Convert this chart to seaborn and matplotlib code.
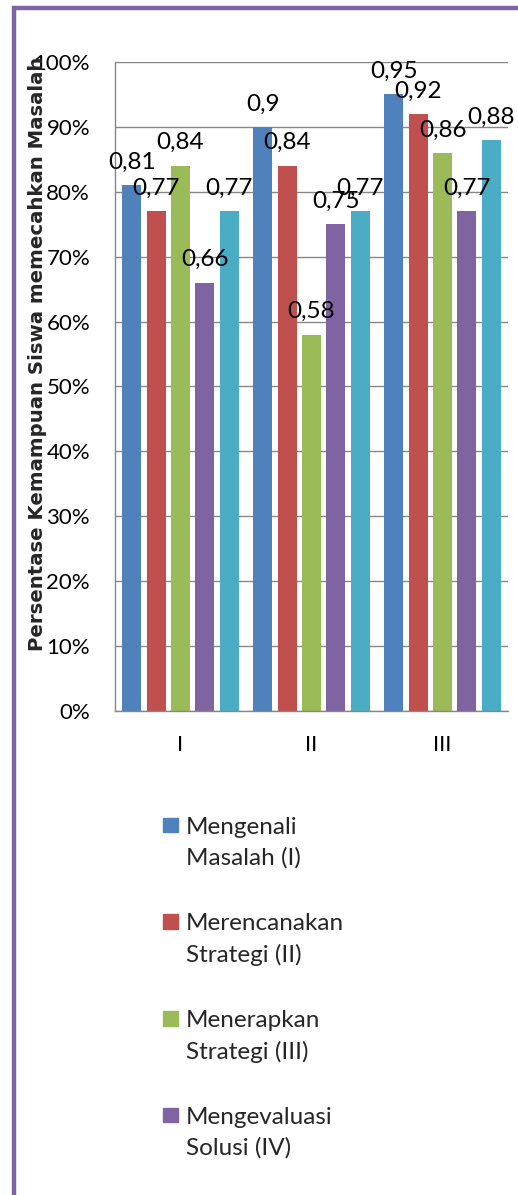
import matplotlib
matplotlib.use("Agg")
import matplotlib.pyplot as plt
from matplotlib.patches import Rectangle
from matplotlib.legend_handler import HandlerPatch
from matplotlib.ticker import PercentFormatter, MultipleLocator
import seaborn as sns
import pandas as pd

# Siklus (cycles) on the x axis
siklus = ["I", "II", "III"]

# Aspects of problem-solving ability (hue series)
aspek = [
    "Mengenali\nMasalah (I)",
    "Merencanakan\nStrategi (II)",
    "Menerapkan\nStrategi (III)",
    "Mengevaluasi\nSolusi (IV)",
    "Rata-rata",
]

mengenali = [0.81, 0.90, 0.95]
merencanakan = [0.77, 0.84, 0.92]
menerapkan = [0.84, 0.58, 0.86]
mengevaluasi = [0.66, 0.75, 0.77]
rata_rata = [0.77, 0.77, 0.88]

warna = ["#4F81BD", "#C0504D", "#9BBB59", "#8064A2", "#4BACC6"]

series = [mengenali, merencanakan, menerapkan, mengevaluasi, rata_rata]
rows = []
for name, vals in zip(aspek, series):
    for s, v in zip(siklus, vals):
        rows.append({"Siklus": s, "Aspek": name, "Nilai": v})
df = pd.DataFrame(rows)

sns.set_style("white")
plt.rcParams["font.family"] = ["Lato", "DejaVu Sans"]

W, H = 518, 1195
fig = plt.figure(figsize=(W / 100, H / 100), dpi=100)
ax = fig.add_axes([115 / W, 1 - 711 / H, 393 / W, 649 / H])

sns.barplot(
    data=df, x="Siklus", y="Nilai", hue="Aspek",
    hue_order=aspek, order=siklus, palette=warna, saturation=1,
    width=0.93, gap=0.22, linewidth=0, ax=ax, legend=False,
)

# value labels above each bar, decimal comma
for cont, vals in zip(ax.containers, series):
    labels = [f"{v:.2f}".rstrip("0").replace(".", ",") for v in vals]
    ax.bar_label(cont, labels=labels, padding=9, fontsize=17.5, color="black")

ax.set_ylim(0, 1)
ax.yaxis.set_major_locator(MultipleLocator(0.1))
ax.yaxis.set_major_formatter(PercentFormatter(1.0, decimals=0))
ax.grid(axis="y", color="#878787", linewidth=1.0)
ax.grid(axis="x", visible=False)
ax.set_axisbelow(True)
for side in ["top", "right"]:
    ax.spines[side].set_visible(False)
for side in ["left", "bottom"]:
    ax.spines[side].set_color("#878787")
    ax.spines[side].set_linewidth(1.0)
ax.tick_params(axis="both", length=0, labelsize=16, colors="black")
ax.tick_params(axis="y", pad=18)
ax.tick_params(axis="x", pad=17)
ax.set_xlabel("")
ax.set_ylabel("Persentase Kemampuan Siswa memecahkan Masalah",
              fontsize=14.2, fontweight="bold", va="center",
              family=["DejaVu Sans"])
ax.yaxis.set_label_coords(-0.196, 0.550)


def square_top(legend, orig_handle, xdescent, ydescent, width, height, fontsize):
    s = 0.6 * fontsize
    return Rectangle((-xdescent, -ydescent + 0.78 * fontsize), s, s)


# the legend lists the four aspects
handles = [Rectangle((0, 0), 1, 1, color=c) for c in warna[:4]]
leg = fig.legend(
    handles, aspek[:4], loc="upper left",
    bbox_to_anchor=(163 / W, 1 - 817 / H), bbox_transform=fig.transFigure,
    frameon=False, fontsize=17.5, borderpad=0, borderaxespad=0,
    handlelength=0.6, handletextpad=0.33, labelspacing=1.83,
    handler_map={Rectangle: HandlerPatch(patch_func=square_top)},
)
for t in leg.get_texts():
    t.set_linespacing(1.52)

# purple outer frame
fig.patches.append(Rectangle(
    (14 / W, -0.2), 1.2, 1.2 - 7.5 / H,
    transform=fig.transFigure, fill=False,
    edgecolor="#8064A2", linewidth=3.2, figure=fig,
))

fig.savefig("out.png", dpi=100)
